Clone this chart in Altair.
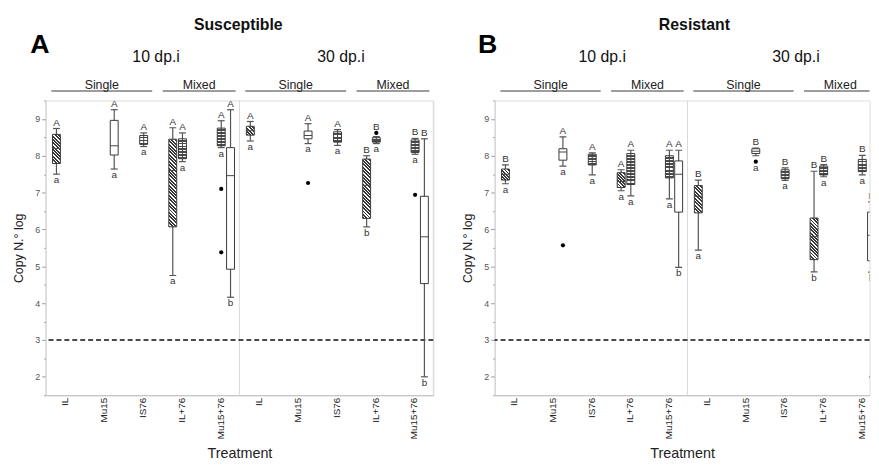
import json
import altair as alt
import pandas as pd

# ---------------- data ----------------
treatments = ["IL", "Mu15", "IS76", "IL+76", "Mu15+76"]
dpi_values = [10, 30]
dpi_titles = ["10 dp.i", "30 dp.i"]
panel_names = ["Susceptible", "Resistant"]
panel_tags = ["A", "B"]
group_names = ["Single", "Mixed"]
detection_limit = [3.0]

box_panel = ["Susceptible"] * 14 + ["Resistant"] * 14
box_dpi = ([10] * 7 + [30] * 7) * 2
box_treat = ["IL", "Mu15", "IS76", "IL+76", "IL+76", "Mu15+76", "Mu15+76"] * 4
box_comp = ["IL", "Mu15", "76", "IL", "76", "76", "Mu15"] * 4

w_lo = [7.50, 7.64, 8.25, 4.75, 7.84, 8.22, 4.16,
        8.40, 8.33, 8.28, 6.07, 8.33, 8.04, 2.00,
        7.24, 7.72, 7.48, 7.05, 6.91, 6.83, 4.97,
        5.44, 8.00, 7.33, 4.85, 7.43, 7.48, 4.84]
q1 = [7.79, 8.02, 8.31, 6.07, 7.92, 8.27, 4.92,
      8.56, 8.46, 8.37, 6.30, 8.37, 8.09, 4.53,
      7.34, 7.88, 7.75, 7.14, 7.22, 7.40, 6.47,
      6.45, 8.06, 7.38, 5.18, 7.48, 7.57, 5.15]
med = [8.20, 8.27, 8.45, 7.60, 8.20, 8.50, 7.46,
       8.68, 8.55, 8.52, 7.20, 8.43, 8.27, 5.80,
       7.50, 8.10, 7.95, 7.30, 7.65, 7.70, 7.50,
       6.90, 8.12, 7.50, 5.80, 7.60, 7.75, 5.84]
q3 = [8.58, 8.96, 8.55, 8.45, 8.46, 8.75, 8.22,
      8.80, 8.67, 8.65, 7.91, 8.49, 8.43, 6.90,
      7.64, 8.19, 8.04, 7.54, 8.06, 8.00, 7.86,
      7.19, 8.19, 7.62, 6.31, 7.72, 7.90, 6.47]
w_hi = [8.74, 9.25, 8.62, 8.76, 8.62, 8.95, 9.25,
        8.93, 8.87, 8.71, 8.00, 8.52, 8.47, 8.46,
        7.75, 8.51, 8.08, 7.62, 8.15, 8.15, 8.15,
        7.34, 8.21, 7.67, 7.58, 7.76, 8.01, 6.75]
letter_hi = ["A", "A", "A", "A", "A", "A", "A",
             "A", "A", "A", "B", "B", "B", "B",
             "B", "A", "A", "A", "A", "A", "A",
             "B", "B", "B", "B", "B", "B", "B"]
letter_lo = ["a", "a", "a", "a", "a", "a", "b",
             "a", "a", "a", "b", "a", "a", "b",
             "a", "a", "a", "a", "a", "a", "b",
             "a", "a", "a", "b", "a", "a", "b"]

out_panel = ["Susceptible", "Susceptible", "Susceptible", "Susceptible", "Susceptible",
             "Resistant", "Resistant", "Resistant"]
out_dpi = [10, 10, 30, 30, 30, 10, 30, 30]
out_treat = ["Mu15+76", "Mu15+76", "Mu15", "IL+76", "Mu15+76", "Mu15", "Mu15", "Mu15+76"]
out_comp = ["76", "76", "Mu15", "76", "76", "Mu15", "Mu15", "Mu15"]
out_val = [7.10, 5.38, 7.26, 8.62, 6.94, 5.57, 7.84, 2.00]

# ---------------- layout / style ----------------
PLOT_H = 298
Y_DOM = [1.5, 9.5]
PXU = PLOT_H / (Y_DOM[1] - Y_DOM[0])
BOX_W = 8
COMP_OFFSET = {"IL": -0.22, "76": 0.03, "Mu15": 0.27}
B_W = 379
LAYOUT = {
    "Susceptible": dict(width=392, xdom=[-0.5, 9.5], title_x=4.47, tag_x=-0.65, dpi_x=[2.35, 7.12]),
    "Resistant": dict(width=B_W, xdom=[-0.5, -0.5 + B_W / 39.0], title_x=4.68, tag_x=-0.68, dpi_x=[2.29, 7.31]),
}
GROUP_SPAN = {"Single": (-0.35, 2.25), "Mixed": (2.52, 4.40)}
Y_TITLE, Y_TAG, Y_DPI, Y_GTEXT, Y_GLINE = 11.55, 11.0, 10.68, 9.92, 9.76
FONT = "Liberation Sans"


def hatch_fill(h, period=3.4, dark="#363636", frac=0.58):
    w = BOX_W
    h = max(h, 1.0)
    k = (w + h) / (w * w + h * h)
    n = max(1, int(round((w + h) / period)))
    stops = []
    for i in range(n):
        a, b, c = i / n, (i + frac) / n, (i + 1) / n
        stops += [{"offset": a, "color": dark}, {"offset": b, "color": dark},
                  {"offset": b, "color": "#ffffff"}, {"offset": c, "color": "#ffffff"}]
    return {"gradient": "linear", "x1": 0, "y1": 1, "x2": k * w, "y2": 1 - k * h, "stops": stops}


def grid_fill(h, period=3.0, dark="#4a4a4a", frac=0.38):
    n = max(1, int(round(max(h, 1.0) / period)))
    stops = []
    for i in range(n):
        a, b, c = i / n, (i + frac) / n, (i + 1) / n
        stops += [{"offset": a, "color": "#ffffff"}, {"offset": b, "color": "#ffffff"},
                  {"offset": b, "color": dark}, {"offset": c, "color": dark}]
    return {"gradient": "linear", "x1": 0, "y1": 0, "x2": 0, "y2": 1, "stops": stops}


def slot(dpi, treat):
    return dpi_values.index(dpi) * 5 + treatments.index(treat)


boxes = pd.DataFrame({
    "panel": box_panel, "dpi": box_dpi, "treat": box_treat, "comp": box_comp,
    "w_lo": w_lo, "q1": q1, "med": med, "q3": q3, "w_hi": w_hi,
    "letter_hi": letter_hi, "letter_lo": letter_lo,
})
outl = pd.DataFrame({"panel": out_panel, "dpi": out_dpi, "treat": out_treat,
                     "comp": out_comp, "val": out_val})
for df in (boxes, outl):
    df["x"] = [slot(d, t) + COMP_OFFSET[c] for d, t, c in zip(df.dpi, df.treat, df.comp)]

hi_anchor, lo_anchor, fills = [], [], []
for _, r in boxes.iterrows():
    o = outl[(outl.panel == r.panel) & (outl.dpi == r.dpi) & (outl.treat == r.treat) & (outl.comp == r.comp)].val
    hi_anchor.append(max([r.w_hi] + [v for v in o if v > r.w_hi]))
    lo_anchor.append(min([r.w_lo] + [v for v in o if r.w_lo - 0.3 < v < r.w_lo]))
    h = (r.q3 - r.q1) * PXU
    if r.comp == "IL":
        fills.append(hatch_fill(h))
    elif r.comp == "76":
        fills.append(grid_fill(h))
    else:
        fills.append("#ffffff")
boxes["hi_anchor"] = hi_anchor
boxes["lo_anchor"] = lo_anchor


def records(df, cols):
    return [{c: (v.item() if hasattr(v, "item") else v) for c, v in zip(cols, row)} for row in df[cols].itertuples(index=False)]


def make_panel(pi):
    name = panel_names[pi]
    lay = LAYOUT[name]
    clip = name == "Resistant"
    xmax = lay["xdom"][1]
    sel = boxes.panel == name
    b = boxes[sel]
    bfills = [f for f, s in zip(fills, sel) if s]
    o = outl[outl.panel == name]

    xs = alt.Scale(domain=lay["xdom"], nice=False, zero=False, padding=0)
    ys = alt.Scale(domain=Y_DOM, nice=False, zero=False, padding=0)
    xaxis = alt.Axis(values=list(range(10)), labelExpr=json.dumps(treatments) + "[datum.value % 5]",
                     labelAngle=-90, labelFontSize=10, labelColor="#222", labelPadding=2,
                     labelOverlap=False, labelFlush=False, ticks=False, domainColor="#bdbdbd",
                     grid=False, title="Treatment", titleFontSize=14.5, titleFontWeight="normal",
                     titleColor="#222", titlePadding=8, labelFont=FONT, titleFont=FONT)
    yvals = [Y_DOM[0] + 0.5 * i for i in range(int((Y_DOM[1] - Y_DOM[0]) * 2) + 1)]
    yaxis = alt.Axis(values=yvals, labelExpr="datum.value % 1 === 0 ? format(datum.value, 'd') : ''",
                     tickSize={"condition": {"test": "datum.value % 1 === 0", "value": 4}, "value": 2},
                     tickColor="#9a9a9a", domainColor="#cfcfcf", labelColor="#555", labelFontSize=9,
                     labelPadding=2, labelOverlap=False, labelFlush=False, grid=False,
                     title="Copy N.\u00b0 log", titleFontSize=12.5, titleFontWeight="normal",
                     titleColor="#222", titlePadding=9, labelFont=FONT, titleFont=FONT)

    def X(f="x"):
        return alt.X(f"{f}:Q", scale=xs, axis=xaxis)

    def Y(f):
        return alt.Y(f"{f}:Q", scale=ys, axis=yaxis)

    layers = []
    frame = pd.DataFrame({"x": [v for v in (4.5, 9.5) if v <= xmax]})
    layers.append(alt.Chart(frame).mark_rule(color="#dadada", strokeWidth=1).encode(x=X()))
    layers.append(alt.Chart(pd.DataFrame({"y": detection_limit})).mark_rule(
        color="#111", strokeDash=[5, 3], strokeWidth=1.6).encode(y=Y("y")))
    layers.append(alt.Chart(b).mark_rule(color="#555", strokeWidth=1.2, clip=clip).encode(
        x=X(), y=Y("w_lo"), y2="w_hi:Q"))
    caps = pd.concat([b[["x", "w_lo"]].rename(columns={"w_lo": "v"}),
                      b[["x", "w_hi"]].rename(columns={"w_hi": "v"})])
    layers.append(alt.Chart(caps).mark_tick(orient="horizontal", size=7, thickness=1.2,
                                            color="#555", opacity=1, clip=clip).encode(x=X(), y=Y("v")))
    brec = records(b, ["x", "q1", "q3", "comp"])
    for r, f in zip(brec, bfills):
        r["fillv"] = f
    layers.append(alt.Chart(alt.Data(values=brec)).mark_bar(
        size=BOX_W, stroke="#3a3a3a", strokeWidth=1, fill={"expr": "datum.fillv"},
        orient="vertical", clip=clip).encode(x=X(), y=Y("q1"), y2="q3:Q"))
    layers.append(alt.Chart(b[b.comp == "76"]).mark_rule(color="#444", strokeWidth=1, clip=clip).encode(
        x=X(), y=Y("q1"), y2="q3:Q"))
    layers.append(alt.Chart(b[b.comp != "76"]).mark_tick(orient="horizontal", size=BOX_W, thickness=1,
                                                        color="#444", opacity=1, clip=clip).encode(
        x=X(), y=Y("med")))
    layers.append(alt.Chart(o).mark_circle(size=18, color="#000", opacity=1, clip=clip).encode(
        x=X(), y=Y("val")))
    layers.append(alt.Chart(b).mark_text(baseline="bottom", dy=-1, fontSize=10, color="#333",
                                         font=FONT, clip=clip).encode(
        x=X(), y=Y("hi_anchor"), text="letter_hi:N"))
    layers.append(alt.Chart(b).mark_text(baseline="top", dy=1, fontSize=10, color="#333",
                                         font=FONT, clip=clip).encode(
        x=X(), y=Y("lo_anchor"), text="letter_lo:N"))

    grows = []
    for di in range(2):
        for g in group_names:
            a, e = GROUP_SPAN[g]
            grows.append({"x1": a + 5 * di, "x2": min(e + 5 * di, xmax),
                          "xc": (a + e) / 2 + 5 * di, "label": g})
    gdf = pd.DataFrame(grows)
    gdf["y"] = Y_GLINE
    gdf["yt"] = Y_GTEXT
    layers.append(alt.Chart(gdf).mark_rule(color="#7d7d7d", strokeWidth=1.5).encode(
        x=X("x1"), x2="x2:Q", y=Y("y")))
    layers.append(alt.Chart(gdf).mark_text(fontSize=12.5, color="#222", font=FONT).encode(
        x=X("xc"), y=Y("yt"), text="label:N"))
    ddf = pd.DataFrame({"x": lay["dpi_x"], "y": [Y_DPI, Y_DPI], "label": dpi_titles})
    layers.append(alt.Chart(ddf).mark_text(fontSize=16, color="#111", font=FONT).encode(
        x=X(), y=Y("y"), text="label:N"))
    tdf = pd.DataFrame({"x": [lay["title_x"]], "y": [Y_TITLE], "label": [name]})
    layers.append(alt.Chart(tdf).mark_text(fontSize=16, fontWeight="bold", color="#111", font=FONT).encode(
        x=X(), y=Y("y"), text="label:N"))
    gtag = pd.DataFrame({"x": [lay["tag_x"]], "y": [Y_TAG], "label": [panel_tags[pi]]})
    layers.append(alt.Chart(gtag).mark_text(fontSize=27, fontWeight="bold", color="#000", font=FONT).encode(
        x=X(), y=Y("y"), text="label:N"))

    return alt.layer(*layers).properties(width=lay["width"], height=PLOT_H)


chart = alt.hconcat(make_panel(0), make_panel(1), spacing=26).properties(
    padding={"left": 4, "top": 6, "right": -0.5, "bottom": 0}
).configure_view(stroke=None).configure(font=FONT)

chart.save("out.html", embed_options={"renderer": "svg", "actions": False})
